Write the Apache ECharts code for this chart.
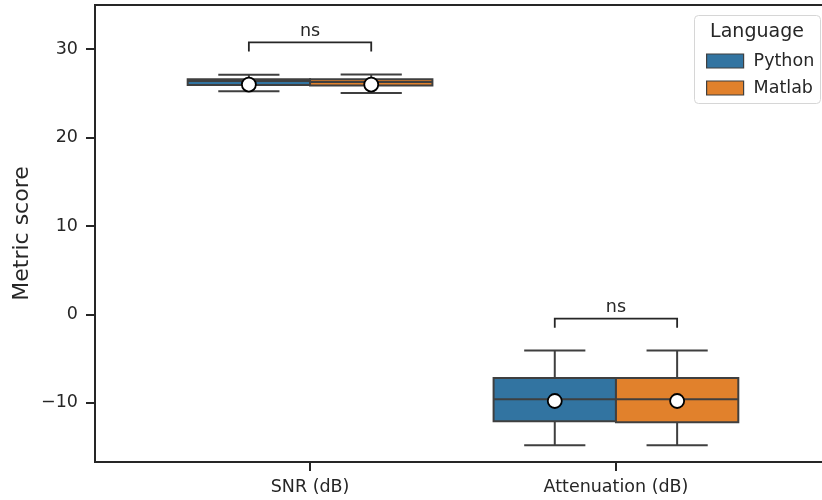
<!DOCTYPE html>
<html>
<head>
<meta charset="utf-8">
<script src="https://cdn.jsdelivr.net/npm/echarts@6/dist/echarts.min.js"></script>
<style>
  html, body { margin: 0; padding: 0; background: #fff; }
  #chart { width: 822px; height: 500px; }
</style>
</head>
<body>
<div id="chart"></div>
<script>
// Metric categories on the x axis and the two implementations compared
const categories = ['SNR (dB)', 'Attenuation (dB)'];
const languages = ['Python', 'Matlab'];

// Box statistics per category: [lower whisker, Q1, median, Q3, upper whisker]
const pythonStats = [
  [25.25, 25.95, 26.4, 26.6, 27.1],
  [-14.8, -12.1, -9.6, -7.2, -4.1]
];
const matlabStats = [
  [25.05, 25.9, 26.3, 26.6, 27.15],
  [-14.8, -12.2, -9.6, -7.2, -4.1]
];
// Group means (white markers)
const pythonMeans = [26.0, -9.8];
const matlabMeans = [26.0, -9.8];

// Pairwise test results per category
const testLabels = ['ns', 'ns'];

// y-axis ticks
const yTicks = [-10, 0, 10, 20, 30];

const colors = { Python: '#3274a1', Matlab: '#e1812c' };
const edge = '#3f3f3f';
const ink = '#262626';
const font = 'DejaVu Sans';

const yMin = -16.7, yMax = 35.0;
const hueWidth = 0.4;                 // width of one box in category units
const hueOffsets = [-0.2, 0.2];

const statsByLang = [pythonStats, matlabStats];
const meansByLang = [pythonMeans, matlabMeans];

function boxSeries(li) {
  const data = statsByLang[li].map((s, ci) => [ci + hueOffsets[li]].concat(s));
  return {
    name: languages[li],
    type: 'custom',
    itemStyle: { color: colors[languages[li]], borderColor: edge },
    encode: { x: 0, y: [1, 2, 3, 4, 5] },
    z: 2,
    renderItem: function (params, api) {
      const x = api.value(0);
      const half = api.size([hueWidth / 2, 0])[0];
      const cx = api.coord([x, 0])[0];
      const py = i => api.coord([x, api.value(i)])[1];
      const lo = py(1), q1 = py(2), med = py(3), q3 = py(4), hi = py(5);
      const capHalf = half / 2;
      const line = { stroke: edge, lineWidth: 2 };
      return {
        type: 'group',
        children: [
          { type: 'line', shape: { x1: cx, y1: q3, x2: cx, y2: hi }, style: line },
          { type: 'line', shape: { x1: cx, y1: q1, x2: cx, y2: lo }, style: line },
          { type: 'line', shape: { x1: cx - capHalf, y1: hi, x2: cx + capHalf, y2: hi }, style: line },
          { type: 'line', shape: { x1: cx - capHalf, y1: lo, x2: cx + capHalf, y2: lo }, style: line },
          { type: 'rect', shape: { x: cx - half, y: q3, width: 2 * half, height: q1 - q3 },
            style: { fill: colors[languages[li]], stroke: edge, lineWidth: 2 } },
          { type: 'line', shape: { x1: cx - half, y1: med, x2: cx + half, y2: med }, style: line }
        ]
      };
    },
    data: data
  };
}

function meanSeries(li) {
  return {
    name: languages[li],
    type: 'scatter',
    symbol: 'circle',
    symbolSize: 14,
    z: 5,
    itemStyle: { color: '#ffffff', borderColor: '#000000', borderWidth: 1.8, opacity: 1 },
    data: meansByLang[li].map((m, ci) => [ci + hueOffsets[li], m])
  };
}

// Brackets sit a fixed fraction of the y range above the taller whisker
const yRange = yMax - yMin;
const bracketData = categories.map((c, ci) => {
  const top = Math.max(pythonStats[ci][4], matlabStats[ci][4]);
  const yLine = top + 0.07 * yRange;
  return [ci + hueOffsets[0], ci + hueOffsets[1], yLine, yLine - 0.02 * yRange, ci];
});

const bracketSeries = {
  type: 'custom',
  silent: true,
  z: 6,
  encode: { x: [0, 1], y: [2, 3] },
  renderItem: function (params, api) {
    const a = api.coord([api.value(0), api.value(2)]);
    const b = api.coord([api.value(1), api.value(2)]);
    const drop = api.coord([api.value(0), api.value(3)])[1];
    return {
      type: 'group',
      children: [
        { type: 'polyline',
          shape: { points: [[a[0], drop], [a[0], a[1]], [b[0], b[1]], [b[0], drop]] },
          style: { stroke: ink, lineWidth: 1.8, fill: null } },
        { type: 'text',
          style: { text: testLabels[api.value(4)], x: (a[0] + b[0]) / 2, y: a[1] - 2,
                   align: 'center', verticalAlign: 'bottom',
                   fill: ink, font: '17.5px "DejaVu Sans"' } }
      ]
    };
  },
  data: bracketData
};

const chart = echarts.init(document.getElementById('chart'), null, { renderer: 'canvas' });

chart.setOption({
  animation: false,
  backgroundColor: '#ffffff',
  textStyle: { fontFamily: font, color: ink },
  grid: {
    left: 95, top: 5, width: 736, height: 457,
    show: true, borderColor: ink, borderWidth: 2, backgroundColor: 'transparent',
    containLabel: false, outerBoundsMode: 'none'
  },
  xAxis: {
    type: 'value',
    min: -0.703, max: 1.703,
    splitLine: { show: false },
    axisLine: { show: true, onZero: false, lineStyle: { color: ink, width: 2 } },
    axisTick: { show: true, length: 9, lineStyle: { color: ink, width: 2 }, customValues: [0, 1] },
    axisLabel: {
      show: true, margin: 16, color: ink, fontSize: 17.5, fontFamily: font,
      customValues: [0, 1],
      formatter: v => categories[Math.round(v)]
    }
  },
  yAxis: {
    type: 'value',
    min: yMin, max: yMax,
    name: 'Metric score',
    nameLocation: 'middle',
    nameGap: 62,
    nameMoveOverlap: false,
    nameTextStyle: { fontSize: 22, color: ink, fontFamily: font },
    splitLine: { show: false },
    axisLine: { show: true, onZero: false, lineStyle: { color: ink, width: 2 } },
    axisTick: { show: true, length: 9, lineStyle: { color: ink, width: 2 }, customValues: yTicks },
    axisLabel: {
      show: true, margin: 17, color: ink, fontSize: 17.5, fontFamily: font,
      customValues: yTicks,
      formatter: v => (v < 0 ? '\u2212' + Math.abs(v) : String(v))
    }
  },
  legend: {
    orient: 'vertical',
    left: 701, top: 47,
    itemWidth: 37, itemHeight: 14, itemGap: 9,
    selectedMode: false,
    textStyle: { fontSize: 17.5, color: ink, fontFamily: font, lineHeight: 18, padding: [0, 0, 0, 5] },
    data: languages.map(l => ({
      name: l, icon: 'rect',
      itemStyle: { color: colors[l], borderColor: edge, borderWidth: 1.2 }
    }))
  },
  graphic: [
    { type: 'rect', left: 694, top: 15, z: 1,
      shape: { width: 126, height: 88, r: 4 },
      style: { fill: 'rgba(255,255,255,0.85)', stroke: '#d6d6d6', lineWidth: 1 } },
    { type: 'text', z: 2,
      style: { text: 'Language', x: 757, y: 32, align: 'center', verticalAlign: 'middle',
               fill: ink, font: '19px "DejaVu Sans"' } }
  ],
  series: [boxSeries(0), boxSeries(1), meanSeries(0), meanSeries(1), bracketSeries]
});
</script>
</body>
</html>
